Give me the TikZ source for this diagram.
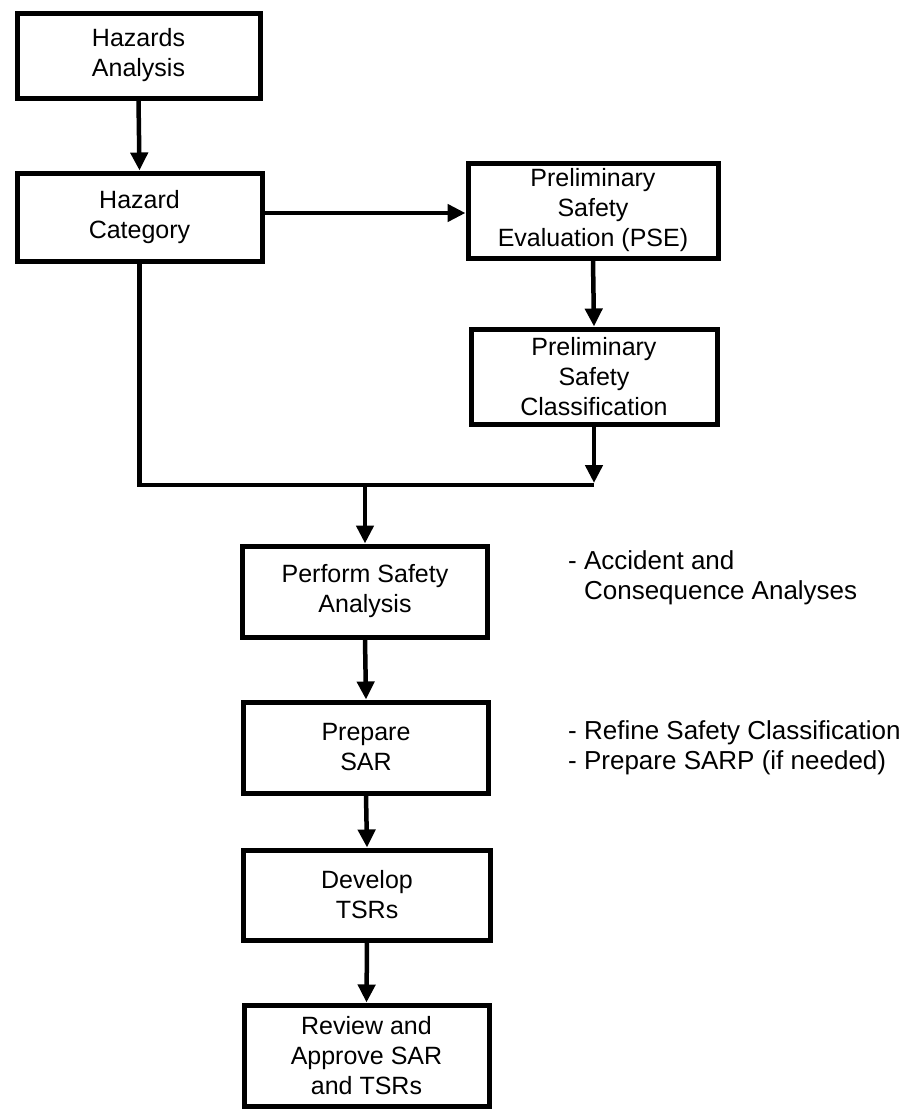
\documentclass[tikz,border=0pt]{standalone}
\usepackage{fontspec}
\setmainfont{Liberation Sans}
\usetikzlibrary{arrows.meta}
\begin{document}
\begin{tikzpicture}[x=1pt,y=-1pt,
  stepbox/.style={draw, line width=5pt, minimum width=245pt, minimum height=90pt,
    align=center, inner sep=0pt, font=\fontsize{25}{30}\selectfont},
  flow/.style={line width=4.5pt, -{Triangle[width=17pt,length=18pt]}},
  link/.style={line width=4.5pt},
  note/.style={anchor=west, align=left, inner sep=0pt, font=\fontsize{26}{30}\selectfont}]
\useasboundingbox (0,0) rectangle (908,1109);

% process boxes
\node[stepbox, minimum width=243pt, minimum height=85pt] (ha) at (138.5,55.5) {Hazards\\Analysis};
\node[stepbox, minimum height=88pt] (hc) at (139.5,217) {Hazard\\Category};
\node[stepbox, minimum width=250pt, minimum height=95pt] (pse) at (593,210.5) {Preliminary\\Safety\\Evaluation (PSE)};
\node[stepbox, minimum width=246pt, minimum height=95pt] (psc) at (594,376.5) {Preliminary\\Safety\\Classification};
\node[stepbox, minimum height=91pt] (psa) at (365,591.5) {Perform Safety\\Analysis};
\node[stepbox, minimum height=91pt] (sar) at (366,747.5) {Prepare\\SAR};
\node[stepbox, minimum width=247pt] (dev) at (367,895) {Develop\\TSRs};
\node[stepbox, minimum height=101pt] (rev) at (366.5,1055.5) {Review and\\Approve SAR\\and TSRs};

% side notes
\node[note] (n1) at (568,578) {- Accident and\\\phantom{- }Consequence Analyses};
\node[note] (n2) at (568,748) {- Refine Safety Classification\\- Prepare SARP (if needed)};

% connectors
\coordinate (merge) at (365,485);
\draw[flow] (ha.south) -- (hc.north);
\draw[flow] ([yshift=4pt]hc.east) -- ([yshift=4pt]hc.east -| pse.west);
\draw[flow] (pse.south) -- (psc.north);
\draw[link] (hc.south) |- (psc.south |- merge);
\draw[flow] (psc.south) -- ([yshift=2pt]psc.south |- merge);
\draw[flow] (merge) -- (psa.north);
\draw[flow] (psa.south) -- (sar.north);
\draw[flow] (sar.south) -- (dev.north);
\draw[flow] (dev.south) -- (rev.north);
\end{tikzpicture}
\end{document}
